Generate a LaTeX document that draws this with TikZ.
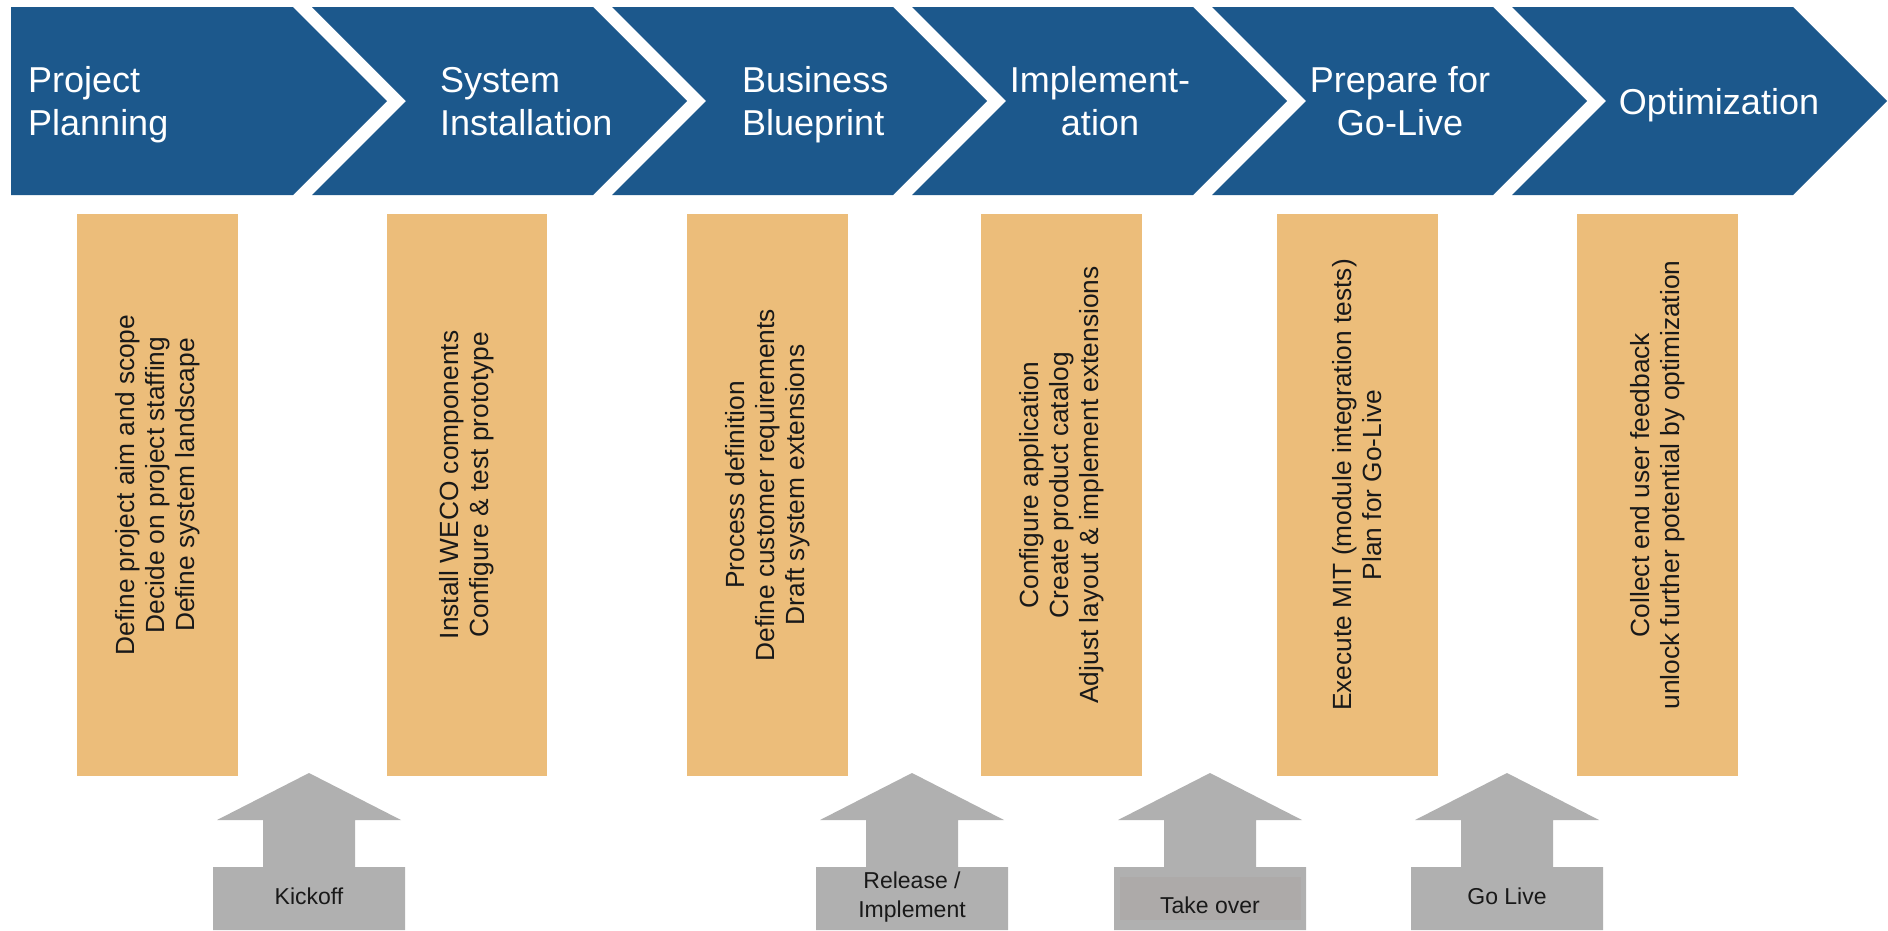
\documentclass[tikz,border=0pt]{standalone}
\usepackage{fontspec}
\setmainfont{Liberation Sans}
\definecolor{chev}{RGB}{28,88,140}
\definecolor{ora}{RGB}{236,189,122}
\definecolor{arr}{RGB}{176,176,176}
\definecolor{arrin}{RGB}{173,170,169}
\newcommand\mytop{\rule{0pt}{30pt}}
\newcommand\mybot{\rule[-10pt]{0pt}{10pt}}
\newcommand\mstop{\rule{0pt}{20pt}}
\newcommand\msbot{\rule[-6pt]{0pt}{6pt}}
\begin{document}
\begin{tikzpicture}[x=1pt,y=-1pt,
  chevron/.style={fill=chev},
  phase/.style={text=white, inner sep=0pt, font=\fontsize{36}{43}\selectfont},
  taskbox/.style={fill=ora},
  tasktext/.style={rotate=90, align=center, inner sep=0pt, text=black!90, font=\fontsize{26.3}{30}\selectfont},
  milestone/.style={fill=arr},
  mtext/.style={inner sep=0pt, text=black!90, font=\fontsize{23}{29}\selectfont, align=center}]
\useasboundingbox (0,0) rectangle (1888,930);
\fill[white] (0,0) rectangle (1888,930);
% chevrons
\fill[chevron] (11,7) -- (293,7) -- (387,101) -- (293,195) -- (11,195) -- cycle;
\foreach \i in {0,...,4} {
  \pgfmathsetmacro\L{312+300*\i}
  \pgfmathsetmacro\R{593+300*\i}
  \fill[chevron] (\L,7) -- (\R,7) -- (\R+94,101) -- (\R,195) -- (\L,195) -- (\L+94,101) -- cycle;
}
\node[phase, anchor=west, align=left] (t1) at (28,103.5) {\mytop Project\\Planning\mybot};
\node[phase, anchor=west, align=left] (t2) at (440,103.5) {\mytop System\\Installation\mybot};
\node[phase, anchor=west, align=left] (t3) at (742,103.5) {\mytop Business\\Blueprint\mybot};
\node[phase, align=center] (t4) at (1100,103.5) {\mytop Implement-\\ation\mybot};
\node[phase, align=center] (t5) at (1400,103.5) {\mytop Prepare for\\Go-Live\mybot};
\node[phase, align=center] (t6) at (1719,104) {\mytop Optimization\mybot};
% task boxes
\fill[taskbox] (77,214) rectangle (238,776);
\fill[taskbox] (387,214) rectangle (547,776);
\fill[taskbox] (687,214) rectangle (848,776);
\fill[taskbox] (981,214) rectangle (1142,776);
\fill[taskbox] (1277,214) rectangle (1438,776);
\fill[taskbox] (1577,214) rectangle (1738,776);
\node[tasktext] (b1) at (157.5,485) {Define project aim and scope\\Decide on project staffing\\Define system landscape};
\node[tasktext] (b2) at (467,485) {Install WECO components\\Configure \& test prototype};
\node[tasktext] (b3) at (767.5,485) {Process definition\\Define customer requirements\\Draft system extensions};
\node[tasktext] (b4) at (1061.5,485) {Configure application\\Create product catalog\\Adjust layout \& implement extensions};
\node[tasktext] (b5) at (1357.5,485) {Execute MIT (module integration tests)\\Plan for Go-Live};
\node[tasktext] (b6) at (1657.5,485) {Collect end user feedback\\unlock further potential by optimization};
% milestones
\foreach \c in {309,912,1210,1507} {
  \fill[milestone] (\c,773) -- (\c+92,820) -- (\c+46,820) -- (\c+46,867) -- (\c+96,867) -- (\c+96,930)
    -- (\c-96,930) -- (\c-96,867) -- (\c-46,867) -- (\c-46,820) -- (\c-92,820) -- cycle;
}
\fill[arrin] (1120,877) rectangle (1301,920);
\node[mtext, anchor=base] (m1) at (309,904) {Kickoff};
\node[mtext] (m2) at (912,895.5) {\mstop Release /\\Implement\msbot};
\node[mtext, anchor=base] (m3) at (1210,913) {Take over};
\node[mtext, anchor=base] (m4) at (1507,904) {Go Live};
\end{tikzpicture}
\end{document}
